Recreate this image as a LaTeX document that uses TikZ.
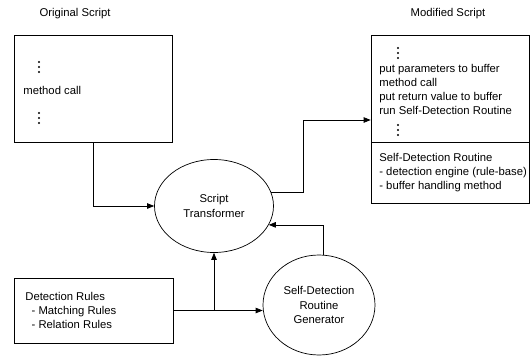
\documentclass[tikz,border=0pt]{standalone}
\usepackage{fontspec}
\setmainfont{Liberation Sans}
\usetikzlibrary{shapes.geometric}
\usetikzlibrary{arrows.meta}
\tikzset{every node/.style={font=\fontsize{11.3}{14.3}\selectfont}}
\tikzset{box/.style={draw,minimum width=158pt,inner sep=0pt}}
\tikzset{blob/.style={draw,ellipse,inner sep=0pt,align=center}}
\tikzset{txt/.style={anchor=west,inner sep=0pt,align=left}}
\tikzset{flow/.style={-{Triangle[length=7pt,width=5.5pt]}}}

\begin{document}
\begin{tikzpicture}[x=1pt,y=-1pt,line width=0.7pt]
\useasboundingbox (0,0) rectangle (531,356);
% the two scripts
\node (origlabel) at (75,14) {Original Script};
\node (modlabel) at (448,14) {Modified Script};
\node[box,minimum height=107pt] (orig) at (93,88.5) {};
\node[box,minimum height=107pt] (mod) at (450,88.5) {};
\node[box,minimum height=61pt] (routine) at (450,172.5) {};
% texts in the boxes
\node[txt] (call) at (23,90) {method call};
\node[txt] (modtext) at (379,89.5) {put parameters to buffer\\method call\\put return value to buffer\\run Self-Detection Routine};
\node[txt] (routinetext) at (379,172.5) {Self-Detection Routine\\- detection engine (rule-base)\\- buffer handling method};
% draw the dots
\foreach \x/\y in {39/62,39/113,398/48,398/125}
  \foreach \d in {0,5,10}
    \fill (\x,\y+\d) circle[radius=1.2pt];
% the rules
\node[box,minimum width=159pt,minimum height=65pt] (rules) at (93.5,310.5) {};
\node[txt] (rulestext) at (25,310.5) {Detection Rules\\\ \ - Matching Rules\\\ \ - Relation Rules};
% the two processes
\node[blob,minimum width=119pt,minimum height=93pt] (trans) at (214,206) {Script\\Transformer};
\node[blob,minimum width=112pt,minimum height=100pt] (gen) at (319,305) {Self-Detection\\Routine\\Generator};
% connectors
\coordinate (turn) at (303,120);
\draw[flow] (orig.south) |- (trans.west);
\draw[flow] (trans.13) -| (turn) -- (turn -| mod.west);
\draw[flow] (rules.east) -- (rules.east -| gen.west);
\draw[flow] (rules.east -| trans.south) -- (trans.south);
\draw[flow] (gen.85) |- (trans.-19);
\end{tikzpicture}
\end{document}
